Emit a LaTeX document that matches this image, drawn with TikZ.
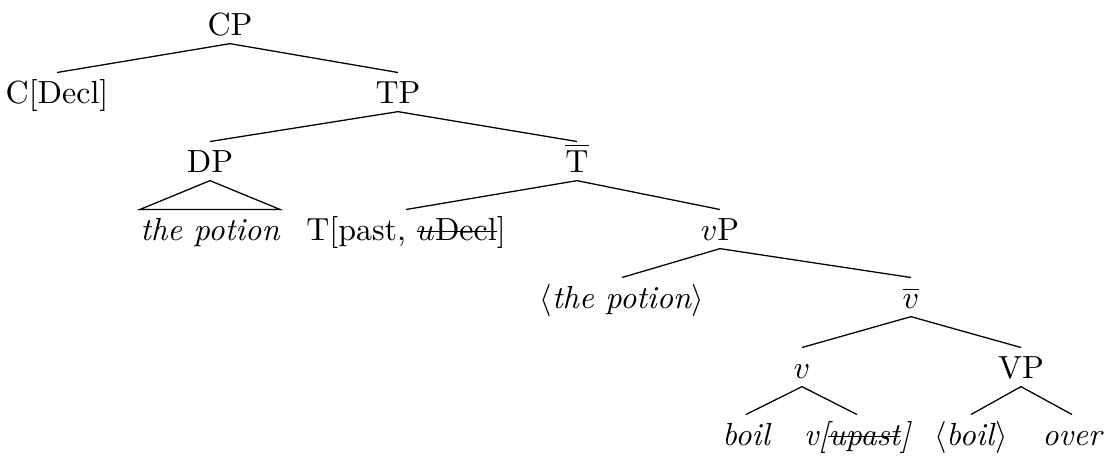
\documentclass[tikz,border=0pt]{standalone}
\newcommand\mystrike[1]{\setbox0\hbox{#1}\rlap{\rule[0.55ex]{\wd0}{0.45pt}}\box0}
\begin{document}
\begin{tikzpicture}[x=0.3125pt,y=-0.3125pt,
  every node/.style={anchor=base, text height=6.83pt, text depth=0pt,
    inner xsep=0pt, inner ysep=2.5pt, font=\fontsize{10}{12}\selectfont},
  branch/.style={line width=0.4pt}]
\useasboundingbox (0,0) rectangle (1107,456);
% row 0
\node (CP) at (230,35) {CP};
% row 1
\node (Cdecl) at (57,103) {C[Decl]};
\node (TP) at (398,103) {TP};
% row 2
\node (DP) at (210,172) {DP};
\node (Tbar) at (577,172) {$\overline{\mathrm{T}}$};
% row 3
\node (potion) at (210,240) {\itshape the potion};
\node (Tpast) at (406,240) {T[past, \mystrike{$u$Decl}]};
\node (vP) at (720,240) {$v$P};
% row 4
\node (tpotion) at (622,308) {$\langle$\textit{the potion}$\rangle$};
\node (vbar) at (911,308) {$\overline{v}$};
% row 5
\node (v) at (802,378) {$v$};
\node (VP) at (1021,378) {VP};
% row 6
\node (boil) at (746,445) {\itshape boil};
\node (vupast) at (857,445) {\itshape v[\mystrike{upast}]};
\node (tboil) at (971,445) {$\langle$\textit{boil}$\rangle$};
\node (over) at (1072,445) {\itshape over};
% branches
\draw[branch] (CP.south) -- (Cdecl.north);
\draw[branch] (CP.south) -- (TP.north);
\draw[branch] (TP.south) -- (DP.north);
\draw[branch] (TP.south) -- (Tbar.north);
\draw[branch] (DP.south) -- (potion.north west) -- (potion.north east) -- cycle;
\draw[branch] (Tbar.south) -- (Tpast.north);
\draw[branch] (Tbar.south) -- (vP.north);
\draw[branch] (vP.south) -- (tpotion.north);
\draw[branch] (vP.south) -- (vbar.north);
\draw[branch] (vbar.south) -- (v.north);
\draw[branch] (vbar.south) -- (VP.north);
\draw[branch] (v.south) -- (boil.north);
\draw[branch] (v.south) -- (vupast.north);
\draw[branch] (VP.south) -- (tboil.north);
\draw[branch] (VP.south) -- (over.north);
\end{tikzpicture}
\end{document}
